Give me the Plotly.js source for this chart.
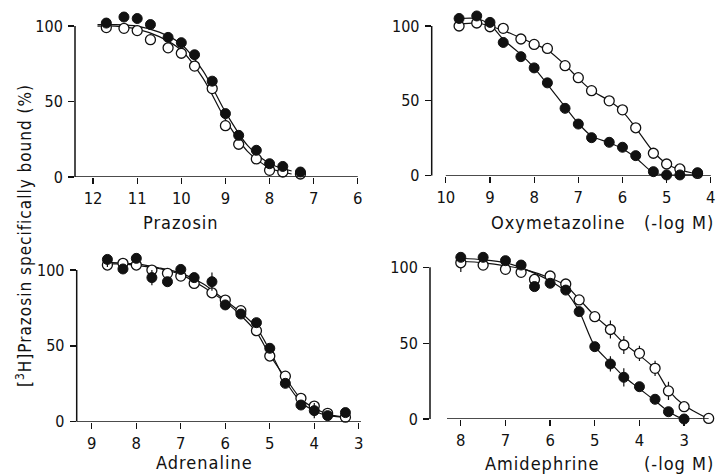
<!DOCTYPE html>
<html><head><meta charset="utf-8">
<script src="https://cdn.plot.ly/plotly-3.0.1.min.js"></script>
<style>html,body{margin:0;padding:0;background:#fff}.annotation-text{letter-spacing:1px}</style>
</head><body><div id="chart" style="width:718px;height:474px"></div>
<script>
// ---------- Panel 1: Prazosin ----------
const prazX      = [11.7, 11.3, 11.0, 10.7, 10.3, 10.0, 9.7, 9.3, 9.0, 8.7, 8.3, 8.0, 7.7, 7.3];
const prazFilled = [102, 106, 105, 101, 92.5, 89, 81, 63.5, 42, 27.6, 17.7, 8.8, 7, 3.3];
const prazOpen   = [99, 98.5, 97, 91, 85.6, 82, 73.5, 58.6, 34, 21.7, 12, 4.4, 3.3, 2];
const prazFitX      = [11.9, 11.5, 11.0, 10.5, 10.0, 9.5, 9.0, 8.5, 8.0, 7.5];
const prazFitFilled = [101, 101, 100, 96, 88, 70, 43, 21, 9, 4];
const prazFitOpen   = [100, 100, 98, 93, 84, 65, 38, 17, 6, 2];

// ---------- Panel 2: Oxymetazoline ----------
const oxyX      = [9.7, 9.3, 9.0, 8.7, 8.3, 8.0, 7.7, 7.3, 7.0, 6.7, 6.3, 6.0, 5.7, 5.3, 5.0, 4.7, 4.3];
const oxyFilled = [105, 106.7, 102.4, 89, 79.5, 72, 62, 45, 34.5, 25.4, 22.3, 19, 13.4, 2.7, 0.5, 0.5, 2];
const oxyOpen   = [100, 102, 99.5, 98.4, 91.3, 87.7, 85, 73.5, 65.5, 56.8, 50, 44, 32, 15, 7.8, 4.5, 1.5];
const oxyFitX      = [9.7, 9.3, 9.0, 8.7, 8.3, 8.0, 7.7, 7.3, 7.0, 6.7, 6.3, 6.0, 5.7, 5.3, 5.0, 4.7, 4.3];
const oxyFitFilled = [105, 105, 101, 91, 81, 72, 61, 46, 35, 26.5, 22, 18, 12, 2, 0.5, 0.5, 0.5];
const oxyFitOpen   = [101, 102, 100, 97, 92, 88, 84, 74, 65, 57, 50, 43, 32, 16, 8, 4, 1];

// ---------- Panel 3: Adrenaline ----------
const adrX      = [8.65, 8.3, 8.0, 7.65, 7.3, 7.0, 6.7, 6.3, 6.0, 5.65, 5.3, 5.0, 4.65, 4.3, 4.0, 3.7, 3.3];
const adrFilled = [107, 100.7, 107.7, 95, 92.3, 100.4, 95, 92.3, 77, 71, 65.3, 48.4, 25.3, 11, 7.3, 4, 6];
const adrFilledErr = [5, 0, 0, 5, 0, 0, 0, 6, 0, 0, 0, 0, 0, 0, 5, 0, 0];
const adrOpen   = [103.3, 104.4, 103.3, 100, 97.8, 96, 91.2, 85, 80.2, 73.2, 60, 43.3, 30, 15.4, 10.3, 5.5, 3];
const adrFitX      = [8.65, 8.3, 8.0, 7.5, 7.0, 6.5, 6.0, 5.65, 5.3, 5.0, 4.65, 4.3, 4.0, 3.7, 3.3];
const adrFitFilled = [105, 104.5, 104, 101.5, 98, 91, 80, 72, 62, 47, 27, 13, 7, 4, 3];
const adrFitOpen   = [104, 104, 103, 101, 97, 89, 79, 70, 59, 44, 29, 15, 9, 5, 3];

// ---------- Panel 4: Amidephrine ----------
const amiX      = [8.0, 7.5, 7.0, 6.65, 6.35, 6.0, 5.65, 5.35, 5.0, 4.65, 4.35, 4.0, 3.65, 3.35, 3.0];
const amiFilled = [106.6, 106.6, 104.4, 101.5, 87.3, 89.5, 85, 70.8, 47.7, 36.3, 27.5, 21.3, 13, 4.8, 0];
const amiFilledErr = [0, 0, 0, 0, 0, 0, 0, 0, 0, 5, 6, 0, 0, 0, 0];
const amiOpenX  = [8.0, 7.5, 7.0, 6.65, 6.35, 6.0, 5.65, 5.35, 5.0, 4.65, 4.35, 4.0, 3.65, 3.35, 3.0, 2.45];
const amiOpen   = [103, 101.5, 98.7, 96.7, 92, 94.3, 89, 78.5, 67.5, 59, 48.8, 43.3, 33.4, 18.5, 8.1, 0.4];
const amiOpenErr = [6, 0, 0, 0, 0, 0, 0, 0, 0, 6, 6, 5, 5, 6, 0, 0];
const amiFitFilledX = [8.0, 7.5, 7.0, 6.5, 6.0, 5.65, 5.35, 5.0, 4.65, 4.35, 4.0, 3.65, 3.35, 3.0, 2.6];
const amiFitFilled  = [106, 105, 103, 98, 91, 84, 71, 48, 37, 28, 20, 12, 5, 0, 0];
const amiFitOpenX   = [8.0, 7.5, 7.0, 6.5, 6.0, 5.65, 5.35, 5.0, 4.65, 4.35, 4.0, 3.65, 3.35, 3.0, 2.45];
const amiFitOpen    = [104, 103, 101, 98, 93, 88, 79, 68, 59, 50, 42, 33, 19, 9, 0];

const yTicks = [0, 50, 100];
const xTicks1 = [12, 11, 10, 9, 8, 7, 6];
const xTicks2 = [10, 9, 8, 7, 6, 5, 4];
const xTicks3 = [9, 8, 7, 6, 5, 4, 3];
const xTicks4 = [8, 7, 6, 5, 4, 3];

const W = 718, H = 474;
const FONT = '"DejaVu Sans Condensed", "Liberation Sans", Arial, sans-serif';
const panels = [
  {ax: '', px: [75, 360], py: [177, 14], xr: [12.41, 5.95], ticks: xTicks1, hline: [12.41, 6],
   fx: prazFitX, ff: prazFitFilled, fox: prazFitX, fo: prazFitOpen,
   dx: prazX, df: prazFilled, dfe: null, dox: prazX, dopen: prazOpen, doe: null},
  {ax: '2', px: [431.7, 713], py: [175.7, 14], xr: [10.32, 3.95], ticks: xTicks2, hline: [10, 4],
   fx: oxyFitX, ff: oxyFitFilled, fox: oxyFitX, fo: oxyFitOpen,
   dx: oxyX, df: oxyFilled, dfe: null, dox: oxyX, dopen: oxyOpen, doe: null},
  {ax: '3', px: [76.7, 361], py: [421.7, 257.9], xr: [9.34, 2.95], ticks: xTicks3, hline: [9.34, 2.95],
   fx: adrFitX, ff: adrFitFilled, fox: adrFitX, fo: adrFitOpen,
   dx: adrX, df: adrFilled, dfe: adrFilledErr, dox: adrX, dopen: adrOpen, doe: null},
  {ax: '4', px: [430, 710], py: [419, 255.2], xr: [8.69, 2.42], ticks: xTicks4, hline: [8.31, 2.45],
   fx: amiFitFilledX, ff: amiFitFilled, fox: amiFitOpenX, fo: amiFitOpen,
   dx: amiX, df: amiFilled, dfe: amiFilledErr, dox: amiOpenX, dopen: amiOpen, doe: amiOpenErr}
];

const traces = [];
const layout = {
  width: W, height: H, margin: {l: 0, r: 0, t: 0, b: 0},
  paper_bgcolor: '#fff', plot_bgcolor: 'rgba(0,0,0,0)', showlegend: false,
  font: {family: FONT, size: 16, color: '#111'},
  shapes: [], annotations: []
};
panels.forEach(p => {
  const xa = 'x' + p.ax, ya = 'y' + p.ax;
  const lineStyle = {color: '#111', width: 1.2, shape: 'spline', smoothing: 0.8};
  traces.push({x: p.fox, y: p.fo, xaxis: xa, yaxis: ya, mode: 'lines', line: lineStyle, cliponaxis: false, hoverinfo: 'skip'});
  traces.push({x: p.fx, y: p.ff, xaxis: xa, yaxis: ya, mode: 'lines', line: lineStyle, cliponaxis: false, hoverinfo: 'skip'});
  const openT = {x: p.dox, y: p.dopen, xaxis: xa, yaxis: ya, mode: 'markers', cliponaxis: false,
    marker: {size: 10, color: '#fff', line: {color: '#111', width: 1.3}}};
  if (p.doe) openT.error_y = {type: 'data', array: p.doe, color: '#111', thickness: 1.2, width: 0};
  traces.push(openT);
  const filT = {x: p.dx, y: p.df, xaxis: xa, yaxis: ya, mode: 'markers', cliponaxis: false,
    marker: {size: 10, color: '#111', line: {color: '#111', width: 1}}};
  if (p.dfe) filT.error_y = {type: 'data', array: p.dfe, color: '#111', thickness: 1.2, width: 0};
  traces.push(filT);

  layout['xaxis' + p.ax] = {
    domain: [p.px[0] / W, p.px[1] / W], range: p.xr, anchor: ya,
    tickvals: p.ticks, ticks: 'outside', ticklen: 6, tickwidth: 1.3, tickcolor: '#111',
    showline: false, showgrid: false, zeroline: false, fixedrange: true,
    tickfont: {family: FONT, size: 16.5, color: '#111'}
  };
  layout['yaxis' + p.ax] = {
    domain: [(H - p.py[0]) / H, (H - p.py[1]) / H], range: [0, 108], anchor: xa,
    tickvals: yTicks, ticks: 'outside', ticklen: 6, tickwidth: 1.3, tickcolor: '#111', ticklabelstandoff: 2,
    showline: false, showgrid: false, zeroline: false, fixedrange: true,
    tickfont: {family: FONT, size: 16, color: '#111'}
  };
  layout.shapes.push({type: 'line', xref: xa + ' domain', yref: ya, x0: 0, x1: 0, y0: 0, y1: 100,
    line: {color: '#111', width: 1.5}});
  layout.shapes.push({type: 'line', xref: xa, yref: ya, x0: p.hline[0], x1: p.hline[1], y0: 0, y1: 0,
    line: {color: '#111', width: 1.5}});
});

const titles = [
  {text: 'Prazosin', x: 181, y: 222},
  {text: 'Oxymetazoline', x: 558, y: 222},
  {text: '(-log M)', x: 679, y: 222},
  {text: 'Adrenaline', x: 204, y: 462},
  {text: 'Amidephrine', x: 542, y: 463},
  {text: '(-log M)', x: 679, y: 463}
];
titles.forEach(t => layout.annotations.push({text: t.text, xref: 'paper', yref: 'paper',
  x: t.x / W, y: 1 - t.y / H, xanchor: 'center', yanchor: 'middle', showarrow: false,
  font: {family: FONT, size: 18, color: '#111'}}));
layout.annotations.push({text: '[<sup>3</sup>H]Prazosin specifically bound (%)', xref: 'paper', yref: 'paper',
  x: 24 / W, y: 1 - 236 / H, xanchor: 'center', yanchor: 'middle', textangle: -90, showarrow: false,
  font: {family: FONT, size: 17, color: '#111'}});

Plotly.newPlot('chart', traces, layout, {displayModeBar: false, staticPlot: true});
</script></body></html>
